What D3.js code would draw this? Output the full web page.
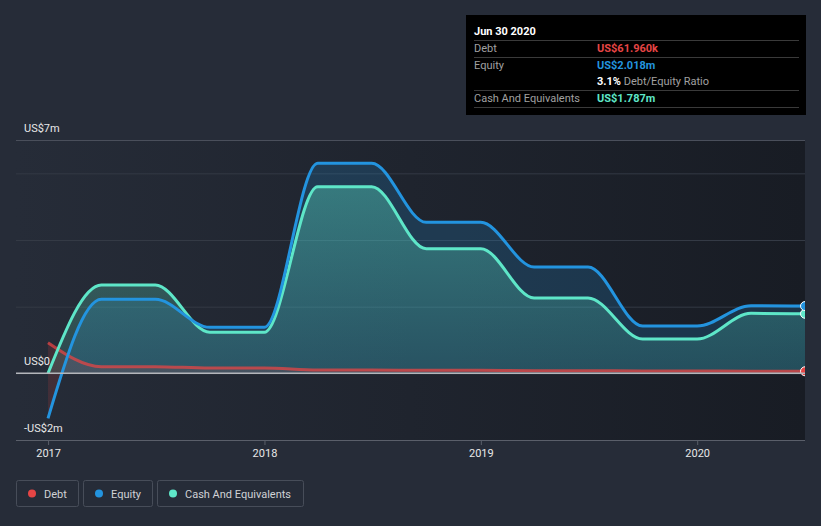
<!DOCTYPE html>
<html><head><meta charset="utf-8">
<script src="https://cdn.jsdelivr.net/npm/d3@7"></script>
<style>
html,body{margin:0;padding:0;background:#262c38;}
svg{display:block;font-family:Roboto,"Noto Sans",sans-serif;}
</style></head>
<body><svg id="c" width="821" height="526"></svg>
<script>
const dates = ["2016-12-31","2017-03-31","2017-06-30","2017-09-30","2017-12-31","2018-03-31","2018-06-30","2018-09-30","2018-12-31","2019-03-31","2019-06-30","2019-09-30","2019-12-31","2020-03-31","2020-06-30"];
const debt = [0.92,0.2,0.2,0.16,0.16,0.1,0.1,0.09,0.09,0.08,0.08,0.07,0.07,0.065,0.062];
const equity = [-1.35,2.22,2.22,1.38,1.38,6.3,6.3,4.53,4.53,3.19,3.19,1.42,1.42,2.03,2.018];
const cash = [0,2.65,2.65,1.23,1.23,5.6,5.6,3.74,3.74,2.26,2.26,1.03,1.03,1.8,1.787];
const yTicks = [-2,0,2,4,6,7];
const yLabels = [{v:7,t:"US$7m"},{v:0,t:"US$0"},{v:-2,t:"-US$2m"}];
const xTicks = ["2017-01-01","2018-01-01","2019-01-01","2020-01-01"];
const colors = {debt:"#e64545", equity:"#2394df", cash:"#5ee6c8"};

const parse = d3.timeParse("%Y-%m-%d");
const svg = d3.select("#c");
const L = 16, R = 805, T = 140, B = 440;
const x = d3.scaleTime().domain([parse(dates[0]), parse(dates[dates.length-1])]).range([48, R]);
const y = d3.scaleLinear().domain([-2, 7]).range([B, T]);

const defs = svg.append("defs");
const bg = defs.append("linearGradient").attr("id","bg").attr("x1","0").attr("x2","1").attr("y1","0").attr("y2","0");
bg.append("stop").attr("offset","0").attr("stop-color","#262c38");
bg.append("stop").attr("offset","1").attr("stop-color","#181c24");
const cg = defs.append("linearGradient").attr("id","cg").attr("gradientUnits","userSpaceOnUse").attr("x1",0).attr("x2",0).attr("y1",y(6)).attr("y2",y(0));
cg.append("stop").attr("offset","0").attr("stop-color","#5ee6c8").attr("stop-opacity",0.38);
cg.append("stop").attr("offset","1").attr("stop-color","#5ee6c8").attr("stop-opacity",0.14);
defs.append("clipPath").attr("id","plot").append("rect").attr("x",L).attr("y",T-10).attr("width",R-L).attr("height",B-T+20);
defs.append("clipPath").attr("id","above").append("rect").attr("x",L).attr("y",0).attr("width",R-L).attr("height",y(0));
defs.append("clipPath").attr("id","below").append("rect").attr("x",L).attr("y",y(0)).attr("width",R-L).attr("height",B-y(0));

svg.append("rect").attr("x",L).attr("y",T).attr("width",R-L).attr("height",B-T).attr("fill","url(#bg)");

// grid
svg.append("g").selectAll("line").data(yTicks).join("line")
  .attr("x1",L).attr("x2",R).attr("y1",d=>y(d)+0.5).attr("y2",d=>y(d)+0.5)
  .attr("stroke",d=>d===7?"#4a4f5b":(d===-2?"#5a5f6a":"#343a45")).attr("stroke-width",1);

const data = dates.map((d,i)=>({date:parse(d), debt:debt[i], equity:equity[i], cash:cash[i]}));
const curve = d3.curveMonotoneX;
const area = k => d3.area().x(d=>x(d.date)).y0(y(0)).y1(d=>y(d[k])).curve(curve);
const line = k => d3.line().x(d=>x(d.date)).y(d=>y(d[k])).curve(curve);

const g = svg.append("g").attr("clip-path","url(#plot)");
g.append("path").datum(data).attr("d",area("equity")).attr("fill","#2394df").attr("fill-opacity",0.2).attr("clip-path","url(#above)");
g.append("path").datum(data).attr("d",area("equity")).attr("fill","#e64545").attr("fill-opacity",0.15).attr("clip-path","url(#below)");
g.append("path").datum(data).attr("d",area("cash")).attr("fill","url(#cg)");
g.append("path").datum(data).attr("d",area("debt")).attr("fill","#e64545").attr("fill-opacity",0.15);

// zero line
svg.append("line").attr("x1",L).attr("x2",R).attr("y1",y(0)).attr("y2",y(0)).attr("stroke","#b4b6bb").attr("stroke-width",1.5);

g.append("path").datum(data).attr("d",line("debt")).attr("fill","none").attr("stroke",colors.debt).attr("stroke-width",3).attr("stroke-opacity",0.75);
g.append("path").datum(data).attr("d",line("cash")).attr("fill","none").attr("stroke",colors.cash).attr("stroke-width",3);
g.append("path").datum(data).attr("d",line("equity")).attr("fill","none").attr("stroke",colors.equity).attr("stroke-width",3);

const last = data[data.length-1];
["debt","cash","equity"].forEach(k=>{
  g.append("circle").attr("cx",x(last.date)).attr("cy",y(last[k])).attr("r",4.5)
   .attr("fill",colors[k]).attr("stroke","#ffffff").attr("stroke-width",1);
});

// x axis
svg.append("line").attr("x1",L).attr("x2",R).attr("y1",B+0.5).attr("y2",B+0.5).attr("stroke","#5a5f6a");
const xa = svg.append("g");
xTicks.forEach(t=>{
  const px = x(parse(t));
  xa.append("line").attr("x1",px).attr("x2",px).attr("y1",B).attr("y2",B+5).attr("stroke","#5a5f6a");
  xa.append("text").attr("x",px).attr("y",457).attr("text-anchor","middle").attr("fill","#e8e8e8").attr("font-size",11).text(t.slice(0,4));
});
// y labels
svg.append("g").selectAll("text").data(yLabels).join("text")
  .attr("x",24).attr("y",d=>y(d.v)-8).attr("fill","#e8e8e8").attr("font-size",11).text(d=>d.t);

// tooltip
const tt = svg.append("g");
tt.append("rect").attr("x",466).attr("y",15).attr("width",340).attr("height",100).attr("fill","#000");
tt.append("text").attr("x",474).attr("y",35).attr("fill","#fff").attr("font-size",11).attr("font-weight","bold").text("Jun 30 2020");
[40,57,90,107].forEach(yy=>tt.append("line").attr("x1",474).attr("x2",799).attr("y1",yy+0.5).attr("y2",yy+0.5).attr("stroke","#3a3a3a"));
const rows = [
  {label:"Debt", val:"US$61.960k", c:colors.debt, y:52},
  {label:"Equity", val:"US$2.018m", c:colors.equity, y:69},
  {label:"Cash And Equivalents", val:"US$1.787m", c:colors.cash, y:102}
];
rows.forEach(r=>{
  tt.append("text").attr("x",474).attr("y",r.y).attr("fill","#a0a0a0").attr("font-size",11).text(r.label);
  tt.append("text").attr("x",597).attr("y",r.y).attr("fill",r.c).attr("font-size",11).attr("font-weight","bold").text(r.val);
});
const rt = tt.append("text").attr("x",597).attr("y",85).attr("font-size",11);
rt.append("tspan").attr("fill","#fff").attr("font-weight","bold").text("3.1%");
rt.append("tspan").attr("fill","#a0a0a0").text(" Debt/Equity Ratio");

// legend
const leg = [{t:"Debt",c:colors.debt,x:16,w:62},{t:"Equity",c:colors.equity,x:83,w:69},{t:"Cash And Equivalents",c:colors.cash,x:157,w:146}];
leg.forEach(l=>{
  const lg = svg.append("g");
  lg.append("rect").attr("x",l.x+0.5).attr("y",480.5).attr("width",l.w).attr("height",26).attr("rx",2).attr("fill","none").attr("stroke","#474d59");
  lg.append("circle").attr("cx",l.x+16).attr("cy",493.5).attr("r",4).attr("fill",l.c);
  lg.append("text").attr("x",l.x+28).attr("y",497.5).attr("fill","#d0d2d6").attr("font-size",11).text(l.t);
});
</script></body></html>
